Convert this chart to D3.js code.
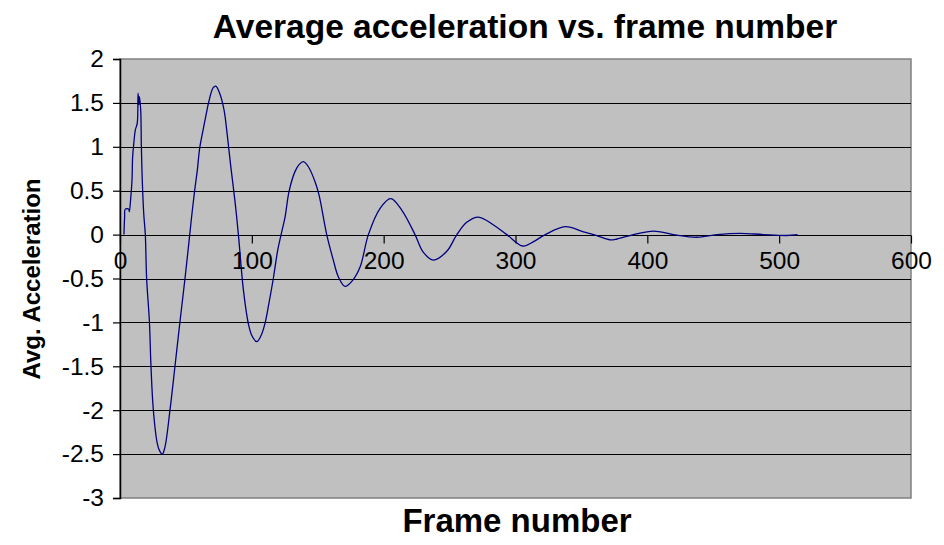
<!DOCTYPE html>
<html>
<head>
<meta charset="utf-8">
<script src="https://cdn.jsdelivr.net/npm/d3@7"></script>
<style>
  body { margin: 0; background: #fff; }
  svg { display: block; font-family: "Liberation Sans", Arial, sans-serif; }
</style>
</head>
<body>
<svg id="chart" width="944" height="545"></svg>
<script>
// frame numbers and average acceleration
const frames = [3, 3.5, 4, 6.6, 7.1, 8.1, 9.1, 9.6, 10.6, 11.6, 13.1, 13.7, 14.4, 14.7, 15.7, 16.2, 16.9, 18, 19.2,
  20.2, 22.3, 23.5, 25.3, 28.3, 30, 32.1, 34.1, 37.9, 41.7, 45.5, 49.3, 52.9,
  54.6, 56.7, 58.7, 60.4, 63, 65.5, 67.3, 70.6, 72.6, 75.6, 78.9, 81.4, 84, 87.3, 89.8,
  93.6, 97.3, 100, 103.7, 107, 110, 112.5, 116.3, 119.6, 122.2,
  125.2, 128.2, 132.8, 136, 139.1, 143, 148, 151, 156.8, 161.8, 165.6, 170.7, 176, 182.1, 188.4,
  197.3, 205.4, 213.7, 223.8, 230, 237.7, 247.9, 255.5, 263, 271.9, 283.3, 293.4, 305.6, 313.7, 322.6,
  337.8, 351.6, 359.2, 371.8, 377, 389.5, 404.7, 419.8, 437.6, 452.7, 470.4, 488.1, 505.8, 514];
const accel = [0, 0.20, 0.29, 0.29, 0.26, 0.41, 0.62, 0.89, 1.06, 1.19, 1.27, 1.61, 1.48, 1.57, 1.42, 1.0, 0.62, 0.24, 0,
  -0.5, -0.99, -1.5, -2.0, -2.38, -2.46, -2.50, -2.42, -2.0, -1.5, -0.99, -0.5, 0,
  0.24, 0.51, 0.74, 0.98, 1.19, 1.38, 1.51, 1.67, 1.69, 1.61, 1.42, 1.13, 0.78, 0.37, 0,
  -0.63, -1.01, -1.15, -1.22, -1.15, -1.01, -0.82, -0.5, -0.18, 0,
  0.20, 0.49, 0.72, 0.80, 0.83, 0.77, 0.60, 0.45, 0, -0.29, -0.48, -0.59, -0.53, -0.37, 0,
  0.30, 0.41, 0.28, 0, -0.2, -0.29, -0.19, 0, 0.14, 0.20, 0.11, 0, -0.13, -0.08, 0,
  0.09, 0.03, 0, -0.06, -0.05, 0, 0.04, 0, -0.03, 0, 0.015, 0, -0.01, 0];

const xTicks = [0, 100, 200, 300, 400, 500, 600];
const yTicks = [-3, -2.5, -2, -1.5, -1, -0.5, 0, 0.5, 1, 1.5, 2];

const titleText = "Average acceleration vs. frame number";
const xTitle = "Frame number";
const yTitle = "Avg. Acceleration";

const svg = d3.select("#chart");
const margin = { top: 59, right: 33, bottom: 47, left: 120 };
const width = 944 - margin.left - margin.right;
const height = 545 - margin.top - margin.bottom;

const x = d3.scaleLinear().domain([0, 600]).range([0, width]);
const y = d3.scaleLinear().domain([-3, 2]).range([height, 0]);

const chart = svg.append("g").attr("transform", `translate(${margin.left},${margin.top})`);

// grey plot area
chart.append("rect")
  .attr("width", width).attr("height", height)
  .attr("fill", "#c0c0c0")
  .attr("stroke", "#808080").attr("stroke-width", 1.5);

// horizontal gridlines
chart.selectAll(".grid")
  .data(yTicks.filter(d => d > -3 && d < 2))
  .join("line")
  .attr("class", "grid")
  .attr("x1", 0).attr("x2", width)
  .attr("y1", d => Math.round(y(d)) + 0.5).attr("y2", d => Math.round(y(d)) + 0.5)
  .attr("stroke", "#000").attr("stroke-width", 1.2);

// y axis on the left (plain hyphen minus like the original)
const yAxis = chart.append("g")
  .call(d3.axisLeft(y).tickValues(yTicks).tickSize(7).tickPadding(9).tickFormat(d => String(d)));
yAxis.select(".domain").attr("stroke", "#000").attr("stroke-width", 1.5);
yAxis.selectAll("line").attr("stroke-width", 1.2);
yAxis.selectAll("text")
  .attr("font-size", 24.5).attr("fill", "#000")
  .style("font-family", "'Liberation Sans', Arial, sans-serif");

// x axis crossing at zero
const xAxis = chart.append("g")
  .attr("transform", `translate(0,${Math.round(y(0)) + 0.5})`)
  .call(d3.axisBottom(x).tickValues(xTicks).tickSize(8).tickPadding(21).tickSizeOuter(0));
xAxis.select(".domain").remove();
xAxis.selectAll("line").attr("stroke-width", 1.2);
xAxis.selectAll("text")
  .attr("font-size", 24.5).attr("fill", "#000").attr("dy", "0.2em")
  .style("font-family", "'Liberation Sans', Arial, sans-serif");

// the data line
const line = d3.line()
  .x((d, i) => x(frames[i]))
  .y(d => y(d))
  .curve(d3.curveCatmullRom.alpha(0.5));

chart.append("path")
  .datum(accel)
  .attr("fill", "none")
  .attr("stroke", "#000080")
  .attr("stroke-width", 1.3)
  .attr("d", line);

// titles
svg.append("text")
  .attr("x", 525).attr("y", 38)
  .attr("text-anchor", "middle")
  .attr("font-size", 33.5).attr("font-weight", "bold")
  .text(titleText);

svg.append("text")
  .attr("x", 517).attr("y", 532)
  .attr("text-anchor", "middle")
  .attr("font-size", 33).attr("font-weight", "bold")
  .text(xTitle);

svg.append("text")
  .attr("transform", "translate(40,279) rotate(-90)")
  .attr("text-anchor", "middle")
  .attr("font-size", 24).attr("font-weight", "bold")
  .text(yTitle);
</script>
</body>
</html>
